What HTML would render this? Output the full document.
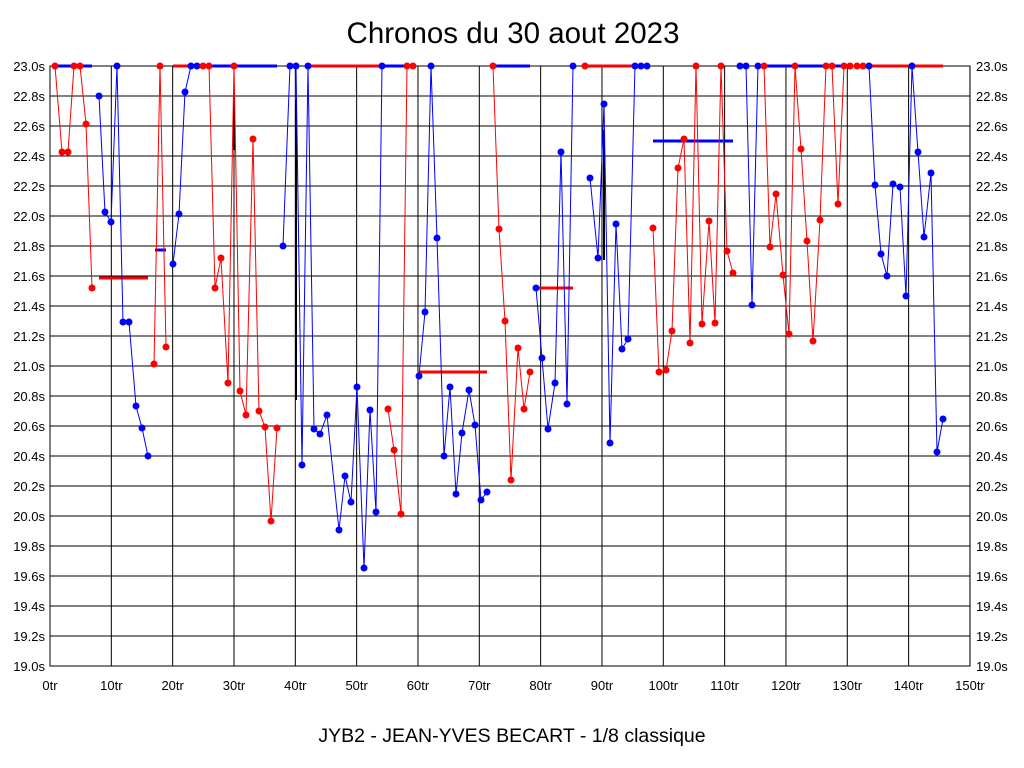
<!DOCTYPE html>
<html><head><meta charset="utf-8"><style>
body{margin:0;background:#fff;}
svg{display:block;font-family:"Liberation Sans",sans-serif;}
</style></head><body>
<svg id="s" width="1024" height="768" xmlns="http://www.w3.org/2000/svg">
<rect x="0" y="0" width="1024" height="768" fill="#fff"/>
<text x="513" y="43" font-size="29.5" text-anchor="middle">Chronos du 30 aout 2023</text>
<text x="512" y="742" font-size="19.5" text-anchor="middle">JYB2 - JEAN-YVES BECART - 1/8 classique</text>
<g id="g"></g>
</svg>
<script>
var g=document.getElementById('g'),h='';
for(var i=0;i<=20;i++){var y=66+i*30;h+='<line x1="50" x2="970" y1="'+y+'" y2="'+y+'" stroke="#000"/>';
var v=(23-i*0.2).toFixed(1)+'s';h+='<text x="45" y="'+(y+5)+'" font-size="13" text-anchor="end">'+v+'</text><text x="976" y="'+(y+5)+'" font-size="13">'+v+'</text>';}
for(var i=0;i<=15;i++){var x=50+i*61.33;h+='<line x1="'+x+'" x2="'+x+'" y1="66" y2="666" stroke="#000"/><text x="'+x+'" y="690" font-size="13" text-anchor="middle">'+(i*10)+'tr</text>';}
h+='<rect x="50" y="66" width="920" height="600" fill="none" stroke="#000"/>';
h+='<line x1="234" x2="234" y1="92" y2="150" stroke="#000" stroke-width="2"/><line x1="296" x2="296" y1="100" y2="400" stroke="#000" stroke-width="2"/><line x1="604" x2="604" y1="130" y2="260" stroke="#000" stroke-width="2"/>';
function bar(x1,x2,y,c){h+='<line x1="'+x1+'" x2="'+x2+'" y1="'+y+'" y2="'+y+'" stroke="'+c+'" stroke-width="3"/>';}
bar(55,92,66,'#00f');bar(99,148,278,'#f00');bar(155,166,250,'#00f');bar(173,210,66,'#f00');bar(197,277,66,'#00f');
bar(308,382,66,'#f00');bar(383,405,66,'#00f');bar(419,487,372,'#f00');bar(493,530,66,'#00f');bar(536,573,288,'#f00');
bar(585,633,66,'#f00');bar(653,733,141,'#00f');bar(764,850,66,'#00f');bar(869,943,66,'#f00');
var runs=[
['#f00',[[55,66],[62,152],[68,152],[74,66],[80,66],[86,124],[92,288]]],
['#00f',[[99,96],[105,212],[111,222],[117,66],[123,322],[129,322],[136,406],[142,428],[148,456]]],
['#f00',[[154,364],[160,66],[166,347]]],
['#00f',[[173,264],[179,214],[185,92],[191,66],[197,66]]],
['#f00',[[203,66],[209,66],[215,288],[221,258],[228,383],[234,66],[240,391],[246,415],[253,139],[259,411],[265,427],[271,521],[277,428]]],
['#00f',[[283,246],[290,66],[296,66],[302,465],[308,66],[314,429],[320,434],[327,415],[339,530],[345,476],[351,502],[357,387],[364,568],[370,410],[376,512],[382,66]]],
['#f00',[[388,409],[394,450],[401,514],[407,66],[413,66]]],
['#00f',[[419,376],[425,312],[431,66],[437,238],[444,456],[450,387],[456,494],[462,433],[469,390],[475,425],[481,500],[487,492]]],
['#f00',[[493,66],[499,229],[505,321],[511,480],[518,348],[524,409],[530,372]]],
['#00f',[[536,288],[542,358],[548,429],[555,383],[561,152],[567,404],[573,66]]],
['#f00',[[585,66]]],
['#00f',[[590,178],[598,258],[604,104],[610,443],[616,224],[622,349],[628,339],[635,66],[641,66],[647,66]]],
['#f00',[[653,228],[659,372],[666,370],[672,331],[678,168],[684,139],[690,343],[696,66],[702,324],[709,221],[715,323],[721,66],[727,251],[733,273]]],
['#00f',[[740,66],[746,66],[752,305],[758,66]]],
['#f00',[[764,66],[770,247],[776,194],[783,275],[789,334],[795,66],[801,149],[807,241],[813,341],[820,220],[826,66],[832,66],[838,204],[844,66],[850,66],[857,66],[863,66]]],
['#00f',[[869,66],[875,185],[881,254],[887,276],[893,184],[900,187],[906,296],[912,66],[918,152],[924,237],[931,173],[937,452],[943,419]]]
];
runs.forEach(function(r){var c=r[0],p=r[1];
if(p.length>1)h+='<polyline fill="none" stroke="'+c+'" stroke-width="1" points="'+p.map(function(q){return q.join(',')}).join(' ')+'"/>';
p.forEach(function(q){h+='<circle cx="'+q[0]+'" cy="'+q[1]+'" r="3.5" fill="'+c+'"/>';});});
g.innerHTML=h;
</script>
</body></html>
